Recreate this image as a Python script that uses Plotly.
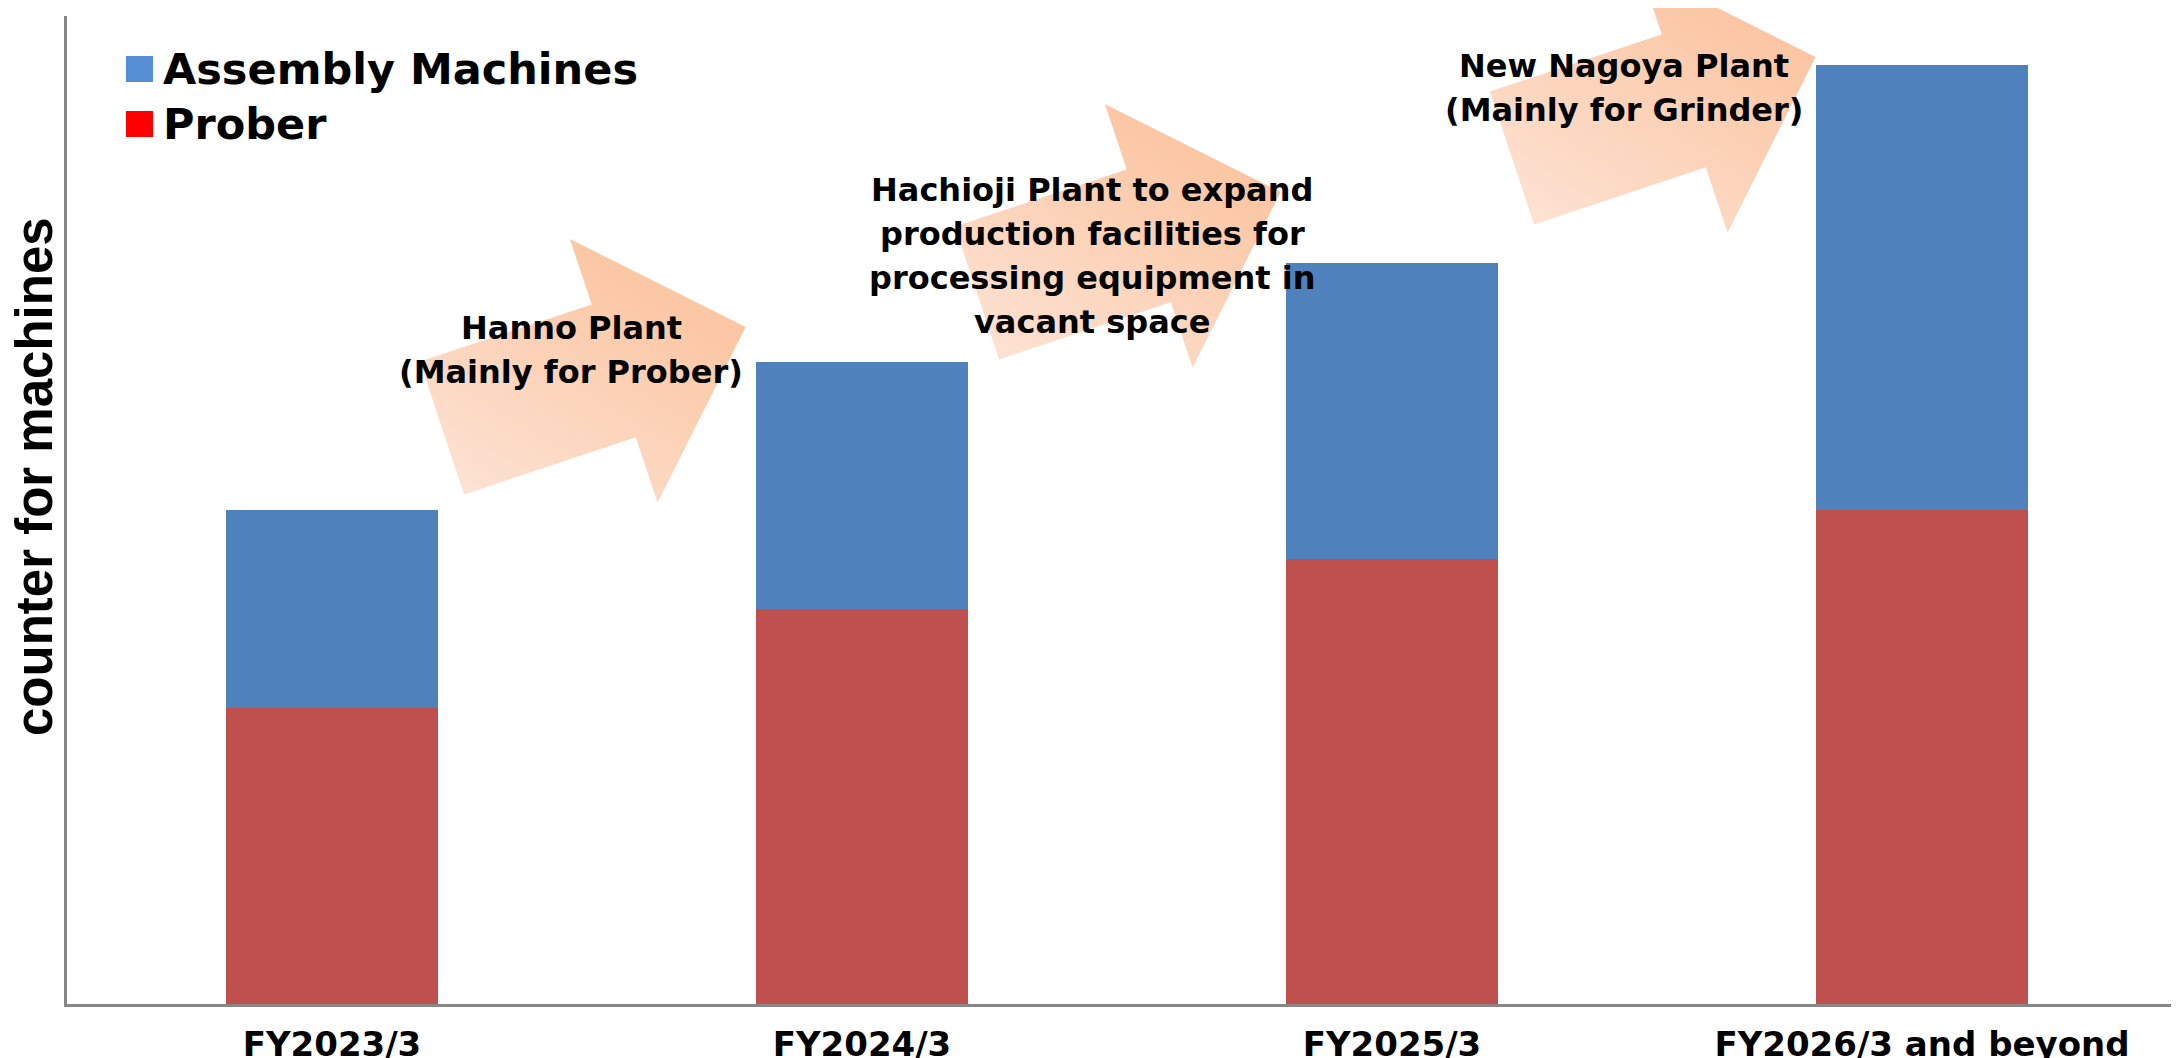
import base64
import math

import plotly.graph_objects as go

categories = ["FY2023/3", "FY2024/3", "FY2025/3", "FY2026/3 and beyond"]
prober = [30, 40, 45, 50]
assembly = [20, 25, 30, 45]

legend_labels = ["Assembly Machines", "Prober"]
y_title = "counter for machines"
notes = [
    ["Hanno Plant", "(Mainly for Prober)"],
    ["Hachioji Plant to expand", "production facilities for",
     "processing equipment in", "vacant space"],
    ["New Nagoya Plant", "(Mainly for Grinder)"],
]

W, H = 2179, 1058
PL, PR, PT, PB = 59, 2179, 8, 996  # plot area in pixels


def px(x):
    return (x - PL) / (PR - PL)


def py(y):
    return (PB - y) / (PB - PT)


def arrow_pts(cx, cy, ang=-18.4, shaft_len=181, head_len=139, shaft_w=140, head_w=278):
    a = math.radians(ang)
    u = (math.cos(a), math.sin(a))
    v = (-math.sin(a), math.cos(a))

    def p(along, across):
        return (cx + u[0] * along + v[0] * across, cy + u[1] * along + v[1] * across)

    pts = [p(0, -shaft_w / 2), p(shaft_len, -shaft_w / 2), p(shaft_len, -head_w / 2),
           p(shaft_len + head_len, 0), p(shaft_len, head_w / 2), p(shaft_len, shaft_w / 2),
           p(0, shaft_w / 2)]
    return " ".join(f"{x:.1f},{y:.1f}" for x, y in pts)


# the three peach arrows, drawn as one svg over the whole page
polys = ""
for i in range(3):
    polys += f'<polygon points="{arrow_pts(434 + 535 * i, 420 - 135 * i)}" fill="url(#g)"/>'
svg = (f'<svg xmlns="http://www.w3.org/2000/svg" width="{W}" height="{H}" viewBox="0 0 {W} {H}" '
       f'preserveAspectRatio="none"><defs><linearGradient id="g" x1="0" y1="1" x2="0.75" y2="0">'
       f'<stop offset="0" stop-color="#FDE5D8"/><stop offset="1" stop-color="#FBC29C"/>'
       f'</linearGradient></defs>{polys}</svg>')
svg_src = "data:image/svg+xml;base64," + base64.b64encode(svg.encode()).decode()

fig = go.Figure()
fig.add_trace(go.Bar(x=categories, y=prober, name="Prober", marker_color="#C0504D",
                     marker_line_width=0, showlegend=False))
fig.add_trace(go.Bar(x=categories, y=assembly, name="Assembly Machines", marker_color="#4F81BD",
                     marker_line_width=0, showlegend=False))

annots = []
# plant notes, one line at a time
note_pos = [(563, 320), (1084, 182), (1616, 58)]
for lines, (cx, cy) in zip(notes, note_pos):
    for k, line in enumerate(lines):
        annots.append(dict(x=px(cx), y=py(cy + 44 * k), xref="paper", yref="paper",
                           text=line, showarrow=False, xanchor="center", yanchor="middle",
                           font=dict(family="DejaVu Sans", size=32, color="black", weight="bold")))

# hand-made legend
shapes = []
leg_colors = ["#558ED5", "#FF0000"]
for k, (lab, col) in enumerate(zip(legend_labels, leg_colors)):
    top = 48 + 55 * k
    shapes.append(dict(type="rect", xref="paper", yref="paper", x0=px(118), x1=px(145),
                       y0=py(top + 26), y1=py(top), fillcolor=col, line_width=0))
    annots.append(dict(x=px(153), y=py(61 + 55 * k), xref="paper", yref="paper", text=lab,
                       showarrow=False, xanchor="left", yanchor="middle",
                       font=dict(family="DejaVu Sans", size=43, color="black", weight="bold")))

annots.append(dict(x=px(26), y=py(469), xref="paper", yref="paper", text=y_title,
                   showarrow=False, textangle=-90, xanchor="center", yanchor="middle",
                   font=dict(family="Liberation Sans", size=51, color="black", weight="bold")))

fig.update_layout(
    width=W, height=H,
    barmode="stack", bargap=0.6,
    margin=dict(l=PL, r=W - PR, t=PT, b=H - PB),
    paper_bgcolor="white", plot_bgcolor="white",
    annotations=annots, shapes=shapes,
    images=[dict(source=svg_src, xref="paper", yref="paper", x=px(0), y=py(0),
                 sizex=W / (PR - PL), sizey=H / (PB - PT), xanchor="left", yanchor="top",
                 sizing="stretch", layer="below")],
)
fig.update_xaxes(showline=True, linecolor="#878787", linewidth=2.5, ticks="", showgrid=False,
                 tickfont=dict(family="DejaVu Sans", size=34, color="black", weight="bold"),
                 ticklabelstandoff=8, range=[-0.5, 3.5])
fig.update_yaxes(showline=True, linecolor="#878787", linewidth=2.5, ticks="", showgrid=False,
                 showticklabels=False, zeroline=False, range=[0, 100])

fig.write_html("out.html")
